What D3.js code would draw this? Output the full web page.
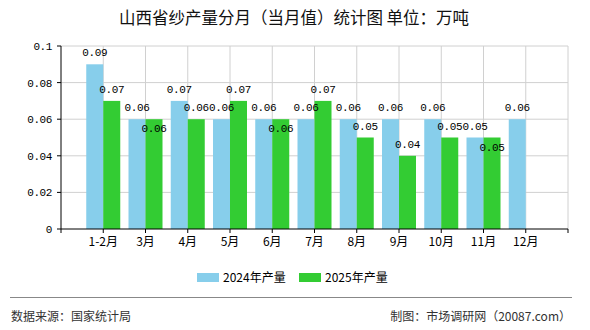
<!DOCTYPE html>
<html>
<head>
<meta charset="utf-8">
<script src="https://cdn.jsdelivr.net/npm/d3@7/dist/d3.min.js"></script>
<style>
  body { margin: 0; background: #fff; }
  svg text { font-family: "Noto Sans CJK SC", "Noto Sans", sans-serif; }
  .num { font-family: "Liberation Mono", "DejaVu Sans Mono", monospace !important; letter-spacing: -0.4px; }
</style>
</head>
<body>
<div id="chart"></div>
<script>
// data
let months = ["1-2月", "3月", "4月", "5月", "6月", "7月", "8月", "9月", "10月", "11月", "12月"];
let prod2024 = [0.09, 0.06, 0.07, 0.06, 0.06, 0.06, 0.06, 0.06, 0.06, 0.05, 0.06];
let prod2025 = [0.07, 0.06, 0.06, 0.07, 0.06, 0.07, 0.05, 0.04, 0.05, 0.05, null];
let yTicks = [0, 0.02, 0.04, 0.06, 0.08, 0.1];
let seriesNames = ["2024年产量", "2025年产量"];

let width = 590,
    height = 330;
let colors = ["#87CEEB", "#33CC33"];

let svg = d3.select("#chart").append("svg")
    .attr("width", width)
    .attr("height", height);

// plot area
let pLeft = 61, pRight = 568, pTop = 46, pBottom = 229;
let barW = 17;

let x = d3.scaleLinear()
    .domain([0, months.length + 1])
    .range([pLeft, pRight]);

let y = d3.scaleLinear()
    .domain([0, 0.1])
    .range([pBottom, pTop]);

// title
svg.append("text")
    .attr("x", 294)
    .attr("y", 24)
    .attr("text-anchor", "middle")
    .style("font-size", "16.5px")
    .style("fill", "#111")
    .text("山西省纱产量分月（当月值）统计图 单位：万吨");

// grid lines
let grid = svg.append("g");
grid.selectAll(".hgrid")
    .data(yTicks.slice(1))
    .enter().append("line")
    .attr("x1", pLeft).attr("x2", pRight)
    .attr("y1", d => y(d)).attr("y2", d => y(d))
    .attr("stroke", "#d0d0d0").attr("stroke-width", 1);
grid.selectAll(".vgrid")
    .data(d3.range(1, months.length + 2))
    .enter().append("line")
    .attr("x1", d => x(d)).attr("x2", d => x(d))
    .attr("y1", pTop).attr("y2", pBottom)
    .attr("stroke", "#d0d0d0").attr("stroke-width", 1);

// bars
let bars = svg.append("g");
months.forEach(function (m, i) {
    let cx = x(i + 1);
    if (prod2024[i] != null) {
        bars.append("rect")
            .attr("x", cx - barW).attr("width", barW)
            .attr("y", y(prod2024[i])).attr("height", pBottom - y(prod2024[i]))
            .attr("fill", colors[0]);
    }
    if (prod2025[i] != null) {
        bars.append("rect")
            .attr("x", cx).attr("width", barW)
            .attr("y", y(prod2025[i])).attr("height", pBottom - y(prod2025[i]))
            .attr("fill", colors[1]);
    }
});

// value labels
let labels = svg.append("g");
months.forEach(function (m, i) {
    let cx = x(i + 1);
    if (prod2024[i] != null) {
        labels.append("text").attr("class", "num")
            .attr("x", cx - barW / 2)
            .attr("y", y(prod2024[i]) - 8)
            .attr("text-anchor", "middle")
            .style("font-size", "11px")
            .text(prod2024[i]);
    }
    if (prod2025[i] != null) {
        // same value as the blue bar -> label pushed down to avoid overlap
        let off = prod2025[i] === prod2024[i] ? 13 : -8;
        labels.append("text").attr("class", "num")
            .attr("x", cx + barW / 2)
            .attr("y", y(prod2025[i]) + off)
            .attr("text-anchor", "middle")
            .style("font-size", "11px")
            .text(prod2025[i]);
    }
});

// y axis
let yAxis = svg.append("g");
yAxis.append("line")
    .attr("x1", pLeft).attr("x2", pLeft)
    .attr("y1", pTop).attr("y2", pBottom)
    .attr("stroke", "#000");
yAxis.selectAll(".ytick")
    .data(yTicks)
    .enter().append("line")
    .attr("x1", pLeft - 4).attr("x2", pLeft)
    .attr("y1", d => y(d)).attr("y2", d => y(d))
    .attr("stroke", "#000");
yAxis.selectAll(".ylab")
    .data(yTicks)
    .enter().append("text").attr("class", "num")
    .attr("x", pLeft - 9)
    .attr("y", d => y(d) + 4)
    .attr("text-anchor", "end")
    .style("font-size", "11px")
    .text(d => d);

// x axis
let xAxis = svg.append("g");
xAxis.append("line")
    .attr("x1", pLeft).attr("x2", pRight)
    .attr("y1", pBottom).attr("y2", pBottom)
    .attr("stroke", "#000");
xAxis.selectAll(".xtick")
    .data(d3.range(0, months.length + 2))
    .enter().append("line")
    .attr("x1", d => x(d)).attr("x2", d => x(d))
    .attr("y1", pBottom).attr("y2", pBottom + 4)
    .attr("stroke", "#000");
xAxis.selectAll(".xlab")
    .data(months)
    .enter().append("text")
    .attr("x", (d, i) => x(i + 1))
    .attr("y", 246)
    .attr("text-anchor", "middle")
    .style("font-size", "12px")
    .text(d => d);

// legend
let legX = [197, 299];
seriesNames.forEach(function (s, i) {
    svg.append("rect")
        .attr("x", legX[i]).attr("y", 273)
        .attr("width", 22).attr("height", 9)
        .attr("fill", colors[i]);
    svg.append("text")
        .attr("x", legX[i] + 26).attr("y", 282)
        .style("font-size", "12px")
        .text(s);
});

// footer
svg.append("line")
    .attr("x1", 10).attr("x2", 572)
    .attr("y1", 297.5).attr("y2", 297.5)
    .attr("stroke", "#888").attr("stroke-width", 1.2);
svg.append("text")
    .attr("x", 11).attr("y", 321)
    .style("font-size", "12px")
    .style("fill", "#333")
    .text("数据来源：国家统计局");
svg.append("text")
    .attr("x", 571).attr("y", 321)
    .attr("text-anchor", "end")
    .style("font-size", "12px")
    .style("fill", "#333")
    .text("制图：市场调研网（20087.com）");
</script>
</body>
</html>
